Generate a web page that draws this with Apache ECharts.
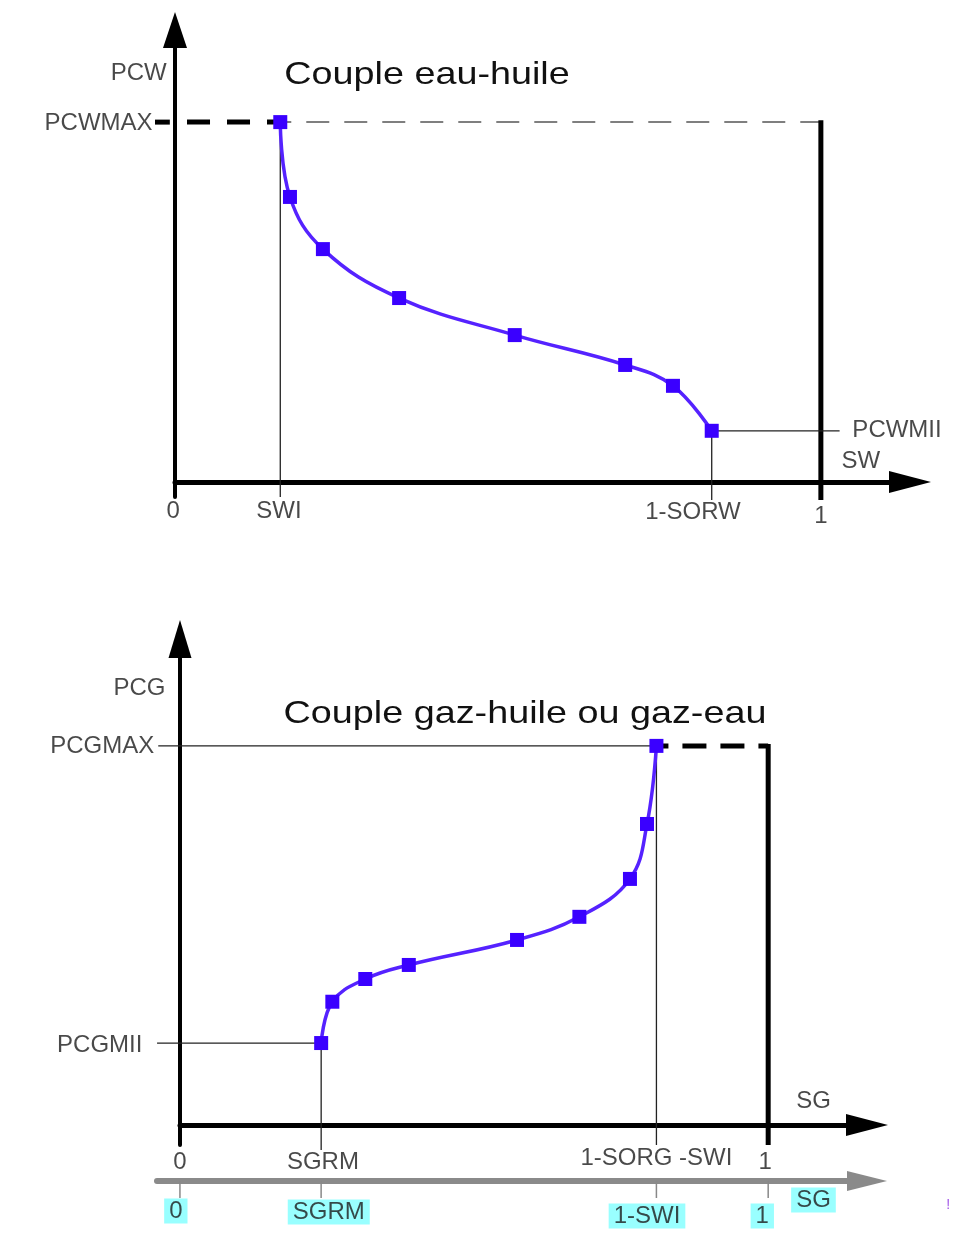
<!DOCTYPE html>
<html>
<head>
<meta charset="utf-8">
<script src="https://cdn.jsdelivr.net/npm/echarts@6/dist/echarts.min.js"></script>
<style>
html, body { margin: 0; padding: 0; background: #fff; }
#chart { width: 977px; height: 1235px; }
</style>
</head>
<body>
<div id="chart"></div>
<script>
// courbe eau-huile (SW / PCW normalisés)
var swPoints = [0.163, 0.178, 0.229, 0.347, 0.526, 0.697, 0.771, 0.831];
var pcwPoints = [1.0, 0.792, 0.647, 0.511, 0.408, 0.325, 0.267, 0.142];

// courbe gaz-huile ou gaz-eau (SG / PCG normalisés)
var sgPoints = [0.240, 0.259, 0.315, 0.389, 0.573, 0.679, 0.765, 0.794, 0.810];
var pcgPoints = [0.216, 0.325, 0.385, 0.422, 0.488, 0.549, 0.649, 0.794, 1.0];

// valeurs caractéristiques
var SWI = 0.163, SORW1 = 0.831, PCWMII = 0.142, PCWMAX = 1;
var SGRM = 0.240, SORG1 = 0.810, PCGMII = 0.216, PCGMAX = 1;

// libellés
var topTicks = ['0', 'SWI', '1-SORW', '1'];
var botTicks = ['0', 'SGRM', '1-SORG -SWI', '1'];
var grayTicks = ['0', 'SGRM', '1-SWI', '1'];
var titles = ['Couple eau-huile', 'Couple gaz-huile ou gaz-eau'];

var FONT = '"Liberation Sans", Arial, Helvetica, sans-serif';
var curveLine = '#5522ff', curveMark = '#3a00ff';

function zip(xs, ys) {
    return xs.map(function(x, i) { return [x, ys[i]]; });
}

// segment de référence (trait fin, épais ou pointillé)
function seg(grid, pts, style) {
    return {
        type: 'line',
        xAxisIndex: grid,
        yAxisIndex: grid,
        data: pts,
        symbol: 'none',
        clip: false,
        silent: true,
        z: 2,
        lineStyle: Object.assign({ color: '#222', width: 1.3 }, style || {})
    };
}

// étiquette texte posée en coordonnées des axes
function lbl(x, y, text, pos, extra) {
    return {
        value: [x, y],
        name: text,
        label: Object.assign({ position: pos || 'inside' }, extra || {})
    };
}

function labelSeries(grid, items, base) {
    return {
        type: 'scatter',
        xAxisIndex: grid,
        yAxisIndex: grid,
        symbolSize: 1,
        itemStyle: { color: 'rgba(0,0,0,0)' },
        clip: false,
        silent: true,
        z: 5,
        label: Object.assign({
            show: true,
            distance: 0,
            formatter: '{b}',
            fontFamily: FONT,
            fontSize: 24,
            color: '#1c1c1c'
        }, base || {}),
        data: items
    };
}

function curve(grid, xs, ys) {
    return {
        type: 'line',
        xAxisIndex: grid,
        yAxisIndex: grid,
        data: zip(xs, ys),
        smooth: 0.4,
        symbol: 'rect',
        symbolSize: 14,
        showSymbol: true,
        clip: false,
        z: 4,
        lineStyle: { color: curveLine, width: 3.5 },
        itemStyle: { color: curveMark }
    };
}

function mainX(grid, max, arrow) {
    return {
        gridIndex: grid, type: 'value', min: 0, max: max,
        axisLine: { show: true, onZero: true, symbol: ['none', 'triangle'], symbolSize: arrow,
            lineStyle: { color: '#000', width: 5 } },
        axisTick: { show: false }, axisLabel: { show: false }, splitLine: { show: false }
    };
}

function mainY(grid, min, max, arrow) {
    return {
        gridIndex: grid, type: 'value', min: min, max: max,
        axisLine: { show: true, onZero: true, symbol: ['none', 'triangle'], symbolSize: arrow,
            lineStyle: { color: '#000', width: 4 } },
        axisTick: { show: false }, axisLabel: { show: false }, splitLine: { show: false }
    };
}

var chart = echarts.init(document.getElementById('chart'));

var thickDash = { color: '#000', width: 5, type: [23, 17] };

// grilles 3 et 4 : mêmes échelles que 0 et 1, étendues à gauche de l'axe vertical
var series = [
    // ---- couple eau-huile ----
    seg(0, [[SWI, PCWMAX], [SWI, -0.042]]),
    seg(3, [[-0.031, PCWMAX], [-0.008, PCWMAX]], { color: '#000', width: 5 }),
    seg(0, [[0.0186, PCWMAX], [SWI, PCWMAX]], thickDash),
    seg(0, [[SWI, PCWMAX], [1, PCWMAX]], { color: '#555', width: 1.5, type: [23, 15], dashOffset: 12 }),
    seg(0, [[1, PCWMAX + 0.005], [1, -0.05]], { color: '#000', width: 5 }),
    seg(0, [[SORW1, PCWMII], [SORW1, -0.05]]),
    seg(0, [[SORW1, PCWMII], [1.029, PCWMII]]),
    curve(0, swPoints, pcwPoints),
    labelSeries(0, [
        lbl(-0.012, 1.136, 'PCW', 'left'),
        lbl(-0.034, 0.997, 'PCWMAX', 'left'),
        lbl(-0.003, -0.081, topTicks[0]),
        lbl(0.161, -0.081, topTicks[1]),
        lbl(0.802, -0.086, topTicks[2]),
        lbl(1.0, -0.097, topTicks[3]),
        lbl(1.062, 0.056, 'SW'),
        lbl(1.048, 0.142, 'PCWMII', 'right')
    ]),

    // ---- couple gaz ----
    seg(4, [[-0.037, PCGMAX], [SORG1, PCGMAX]]),
    seg(1, [[SORG1, PCGMAX], [1, PCGMAX]], { color: '#000', width: 5, type: [24, 14], dashOffset: 12 }),
    seg(1, [[1, PCGMAX + 0.005], [1, -0.053]], { color: '#000', width: 5 }),
    seg(1, [[SORG1, PCGMAX], [SORG1, -0.053]]),
    seg(4, [[-0.039, PCGMII], [SGRM, PCGMII]]),
    seg(1, [[SGRM, PCGMII], [SGRM, -0.066]]),
    curve(1, sgPoints, pcgPoints),
    labelSeries(1, [
        lbl(-0.024, 1.153, 'PCG', 'left'),
        lbl(-0.043, 1.0, 'PCGMAX', 'left'),
        lbl(-0.063, 0.211, 'PCGMII', 'left'),
        lbl(0.0, -0.1, botTicks[0]),
        lbl(0.243, -0.1, botTicks[1]),
        lbl(0.81, -0.087, botTicks[2]),
        lbl(0.995, -0.1, botTicks[3]),
        lbl(1.077, 0.061, 'SG')
    ]),

    // ---- axe gris (SG) ----
    seg(2, [[0, 0], [0, -17]], { color: '#888', width: 1.5 }),
    seg(2, [[SGRM, 0], [SGRM, -17]], { color: '#888', width: 1.5 }),
    seg(2, [[SORG1, 0], [SORG1, -17]], { color: '#888', width: 1.5 }),
    seg(2, [[1, 0], [1, -17]], { color: '#888', width: 1.5 }),
    labelSeries(2, [
        lbl(-0.007, -30, grayTicks[0]),
        lbl(0.253, -31, grayTicks[1]),
        lbl(0.794, -35, grayTicks[2]),
        lbl(0.99, -35, grayTicks[3]),
        lbl(1.077, -19, 'SG'),
        lbl(1.306, -24, '!', 'inside', { backgroundColor: 'transparent', color: '#8a2be2', fontSize: 14, padding: 0 })
    ], { backgroundColor: '#80ffff', padding: [1, 5, 0, 5] })
];

var hiddenX = function(grid, min, max) {
    return { gridIndex: grid, type: 'value', min: min, max: max, show: false };
};

chart.setOption({
    backgroundColor: '#fff',
    animation: false,
    grid: [
        { left: 175, right: 67, top: 30, bottom: 738 },
        { left: 180, right: 110, top: 639, bottom: 90 },
        { left: 157, right: 110, top: 1181, bottom: 9 },
        { left: 142.7, right: 67, top: 30, bottom: 738 },
        { left: 150.6, right: 110, top: 639, bottom: 90 }
    ],
    xAxis: [
        mainX(0, 1.138, [22, 42]),
        mainX(1, 1.168, [22, 42]),
        {
            gridIndex: 2, type: 'value', min: -0.039, max: 1.168, position: 'top',
            axisLine: { show: true, onZero: false, symbol: ['none', 'triangle'], symbolSize: [20, 40],
                lineStyle: { color: '#8a8a8a', width: 6 } },
            axisTick: { show: false }, axisLabel: { show: false }, splitLine: { show: false }
        },
        hiddenX(3, -0.05, 1.138),
        hiddenX(4, -0.05, 1.168)
    ],
    yAxis: [
        mainY(0, -0.042, 1.256, [24, 36]),
        mainY(1, -0.053, 1.282, [23, 38]),
        { gridIndex: 2, type: 'value', min: -45, max: 0, show: false },
        { gridIndex: 3, type: 'value', min: -0.042, max: 1.256, show: false },
        { gridIndex: 4, type: 'value', min: -0.053, max: 1.282, show: false }
    ],
    graphic: [
        { type: 'text', x: 427, y: 75, scaleX: 1.18, z: 10,
          style: { text: titles[0], fontSize: 32, fontFamily: FONT, fill: '#111', align: 'center', verticalAlign: 'middle' } },
        { type: 'text', x: 525, y: 714, scaleX: 1.18, z: 10,
          style: { text: titles[1], fontSize: 32, fontFamily: FONT, fill: '#111', align: 'center', verticalAlign: 'middle' } }
    ],
    series: series
});
</script>
</body>
</html>
